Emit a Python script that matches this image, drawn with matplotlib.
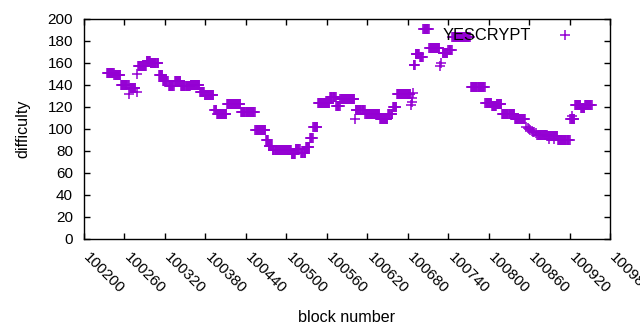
import numpy as np
import matplotlib
matplotlib.use("Agg")
import matplotlib.pyplot as plt
import matplotlib.transforms as mtransforms

plt.rcParams['font.family'] = ['Liberation Sans', 'DejaVu Sans']

# runs of blocks with the same difficulty: first block, last block, difficulty
run_start = [100234, 100245, 100255, 100267, 100268, 100278, 100279, 100280,
             100293, 100299, 100311, 100317, 100326, 100335, 100344, 100358,
             100372, 100379, 100393, 100397, 100412, 100433, 100454, 100470,
             100474, 100480, 100508, 100514, 100522, 100529, 100535, 100540,
             100547, 100565, 100574, 100580, 100602, 100603, 100617, 100639,
             100651, 100658, 100664, 100685, 100686, 100687, 100688, 100689,
             100692, 100698, 100703, 100712, 100728, 100730, 100732, 100740,
             100746, 100774, 100795, 100805, 100812, 100820, 100839, 100856,
             100858, 100860, 100862, 100864, 100866, 100868, 100870, 100872,
             100887, 100890, 100897, 100903, 100921, 100924, 100928, 100937,
             100943]
run_end = [100244, 100254, 100266, 100267, 100276, 100278, 100279, 100292,
           100298, 100310, 100316, 100324, 100333, 100343, 100357, 100371,
           100378, 100392, 100396, 100411, 100432, 100453, 100469, 100473,
           100479, 100507, 100513, 100520, 100528, 100534, 100539, 100546,
           100564, 100573, 100579, 100601, 100602, 100616, 100638, 100650,
           100657, 100663, 100684, 100685, 100686, 100687, 100688, 100691,
           100697, 100702, 100711, 100727, 100728, 100730, 100739, 100745,
           100772, 100794, 100804, 100811, 100819, 100838, 100854, 100856,
           100858, 100860, 100862, 100864, 100866, 100868, 100870, 100886,
           100902, 100890, 100897, 100920, 100927, 100924, 100936, 100942,
           100953]
run_value = [151, 149, 140, 132, 137, 134, 150, 157,
             162, 160, 149, 144, 139, 144, 139, 140,
             134, 131, 117, 114, 123, 115, 99, 90,
             85, 81, 77, 82, 78, 84, 92, 102,
             124, 129, 121, 127, 109, 117, 114, 109,
             114, 120, 132, 122, 125, 128, 133, 158,
             168, 165, 191, 174, 157, 160, 169, 172,
             184, 138, 124, 121, 123, 114, 109, 102,
             101, 100, 99, 98, 97, 97, 96, 95,
             94, 91, 91, 90, 109, 112, 122, 119,
             122]

blocks = []
difficulty = []
for s, e, v in zip(run_start, run_end, run_value):
    for b in range(s, e + 1):
        blocks.append(b)
        difficulty.append(v)

fig = plt.figure(figsize=(6.4, 3.3), dpi=100)
ax = fig.add_axes([84 / 640, 91 / 330, 526 / 640, 220 / 330])

ax.plot(blocks, difficulty, linestyle='none', marker='+', color='#9400D3',
        markersize=6.5, markeredgewidth=1.1, label='YESCRYPT')

ax.set_xlim(100200, 100980)
ax.set_ylim(0, 200)
ax.set_xticks(np.arange(100200, 100981, 60))
ax.set_yticks(np.arange(0, 201, 20))
ax.tick_params(direction='in', top=True, right=True, length=4.5, width=1,
               labelsize=11)
ax.tick_params(axis='y', pad=8)
ax.tick_params(axis='x', pad=8)
shift = mtransforms.ScaledTranslation(7 / 100, 0, fig.dpi_scale_trans)
for lab in ax.get_xticklabels():
    lab.set_rotation(-45)
    lab.set_ha('left')
    lab.set_va('top')
    lab.set_rotation_mode('anchor')
    lab.set_transform(lab.get_transform() + shift)
for sp in ax.spines.values():
    sp.set_linewidth(1)

ax.set_xlabel('block number', fontsize=11.6, labelpad=10)
ax.set_ylabel('difficulty', fontsize=11.6, labelpad=12)

ax.legend(loc='upper right', frameon=False, markerfirst=False, fontsize=11.8,
          handlelength=3, handletextpad=0.6, bbox_to_anchor=(0.989, 1.025))

fig.savefig('out.png', dpi=100)
